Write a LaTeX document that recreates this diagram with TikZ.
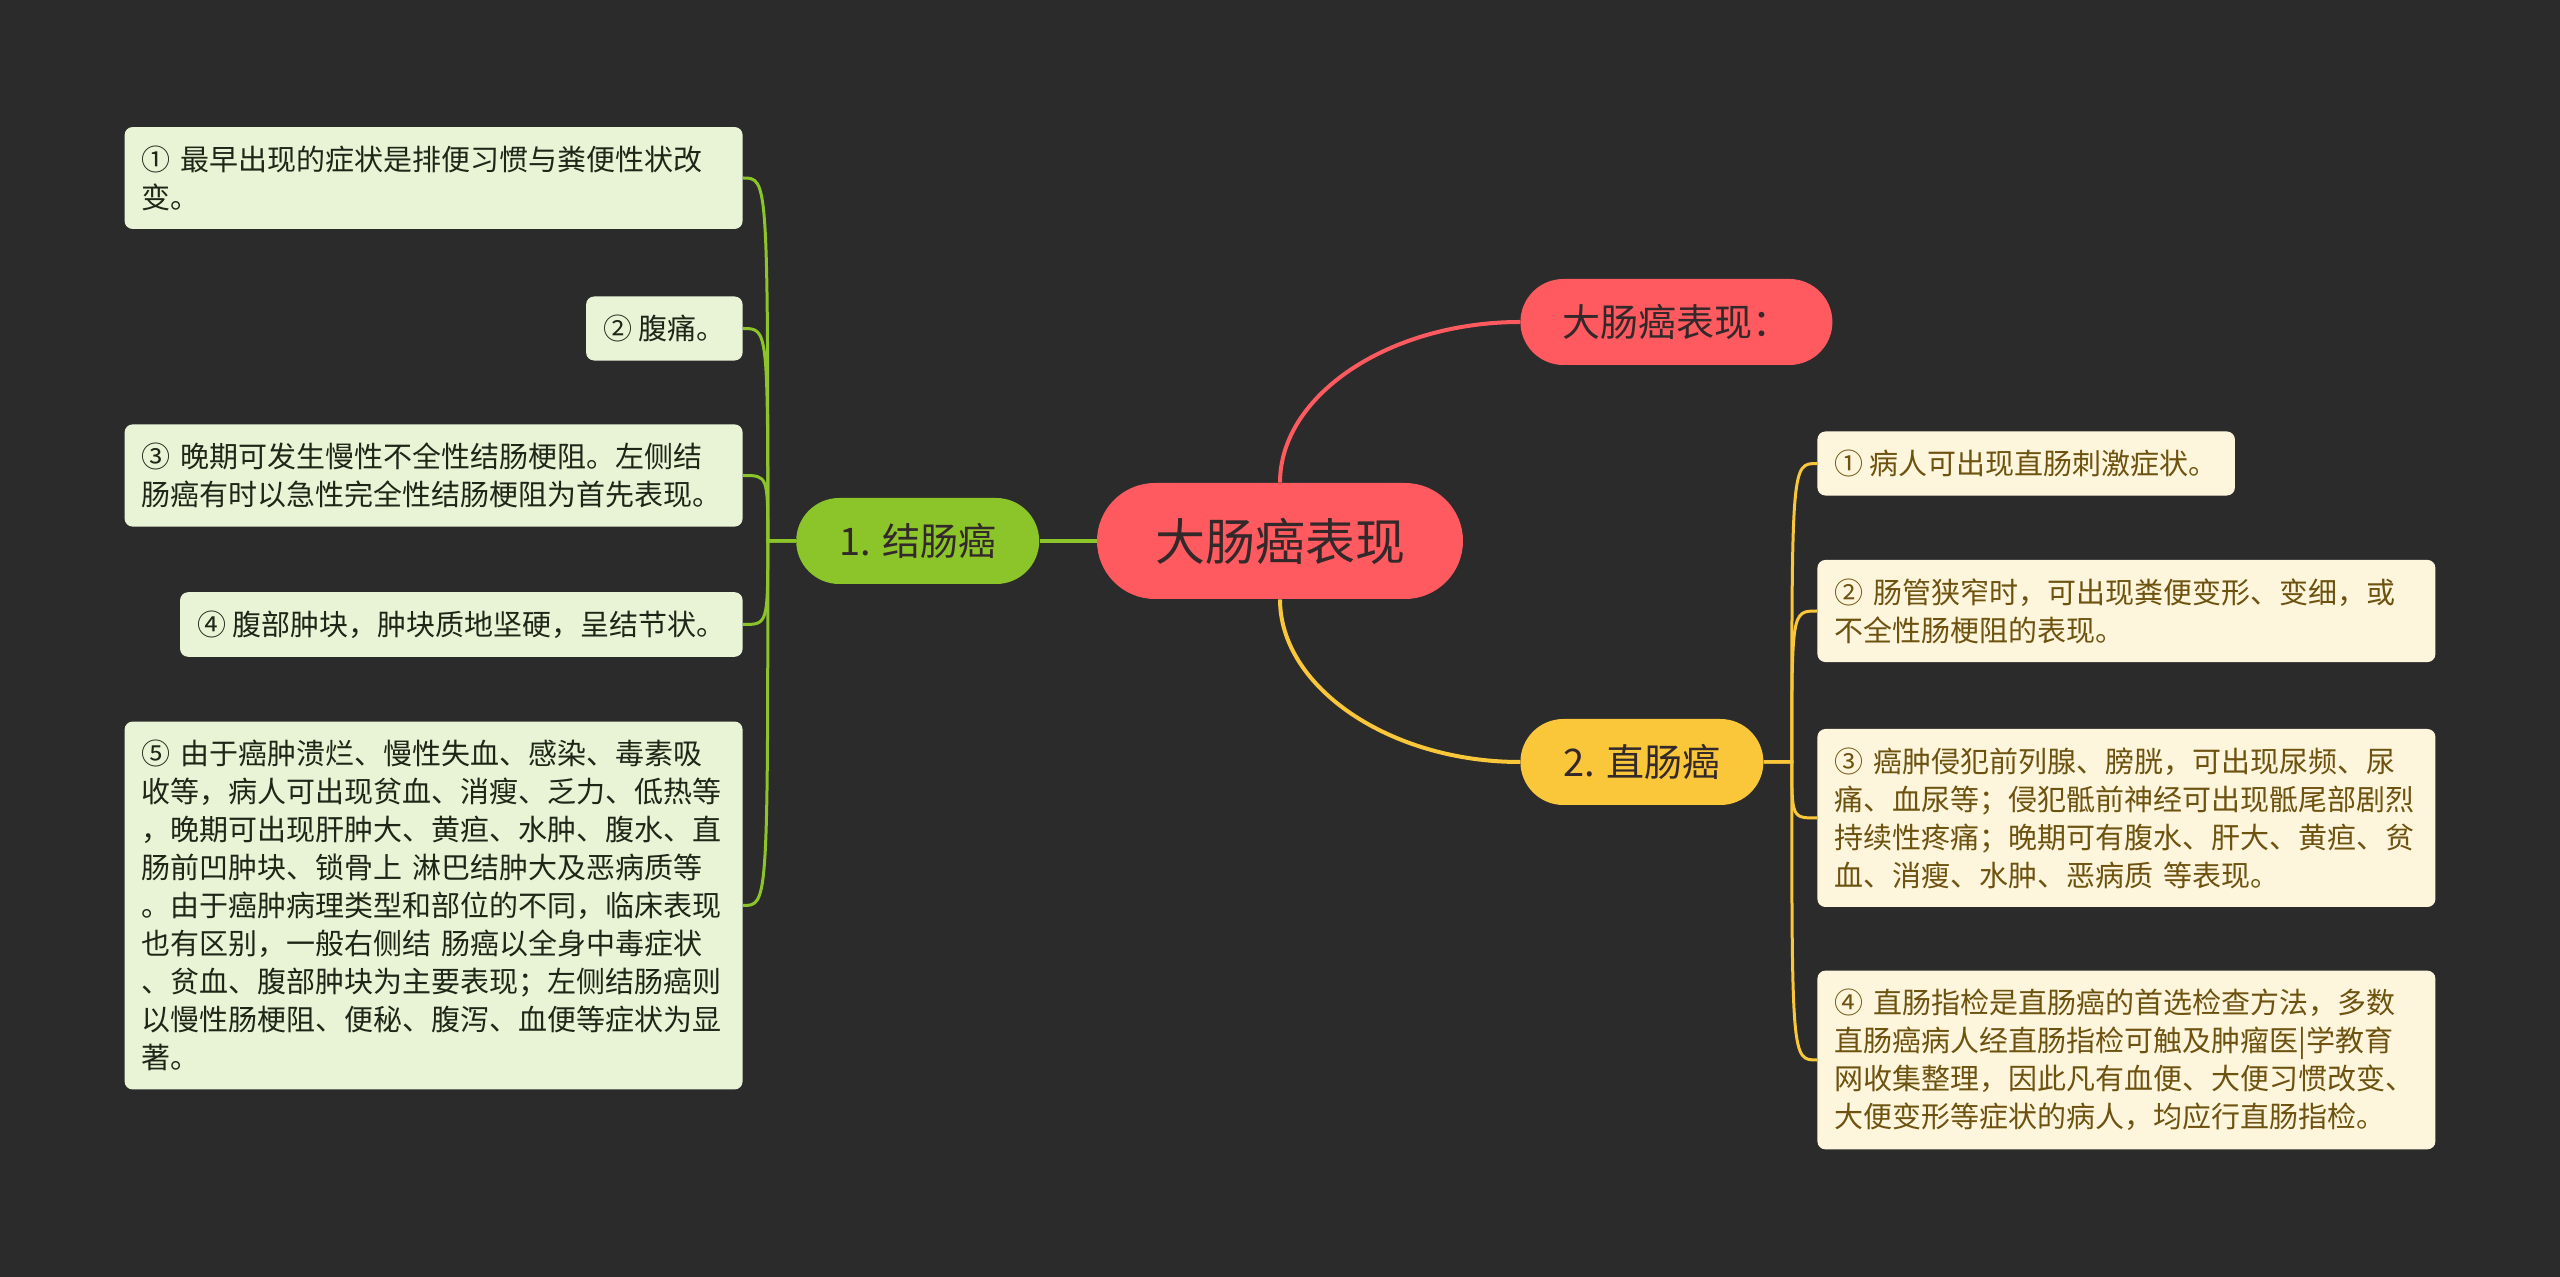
\documentclass[tikz,border=0pt]{standalone}
\usepackage{fontspec}
\setmainfont{Noto Sans CJK SC}
\usetikzlibrary{positioning,calc,backgrounds}
\definecolor{bgc}{HTML}{2B2B2B}
\definecolor{rootred}{HTML}{FF5A5F}
\definecolor{lvgrn}{HTML}{8BC52A}
\definecolor{lvylw}{HTML}{FAC63A}
\definecolor{lfgrn}{HTML}{E9F4D6}
\definecolor{lfylw}{HTML}{FEF6DC}
\definecolor{txtdk}{HTML}{33282A}
\definecolor{txtgr}{HTML}{1F2618}
\definecolor{txtbr}{HTML}{6E5210}
\tikzset{
  pill/.style={rectangle,rounded corners=21.5pt,minimum height=43pt,minimum width=121.5pt,inner xsep=10pt,font=\fontsize{19pt}{23pt}\selectfont,text=txtdk},
  rootblk/.style={pill,fill=rootred,rounded corners=29pt,minimum height=58pt,minimum width=183pt,font=\fontsize{25pt}{30pt}\selectfont},
  redblk/.style={pill,fill=rootred,minimum width=156pt},
  grnblk/.style={pill,fill=lvgrn},
  ylwblk/.style={pill,fill=lvylw},
  leaf/.style={rectangle,rounded corners=4pt,inner xsep=8.5pt,inner ysep=9.25pt,align=left,font=\fontsize{14.5pt}{19pt}\selectfont},
  gleaf/.style={leaf,fill=lfgrn,text=txtgr},
  yleaf/.style={leaf,fill=lfylw,text=txtbr},
  wide/.style={text width=292pt},
  mlink/.style={line width=2pt},
  glink/.style={draw=lvgrn,line width=1.5pt},
  ylink/.style={draw=lvylw,line width=1.5pt}
}
\begin{document}
\begin{tikzpicture}[node distance=28.5pt]
  \begin{scope}[on background layer]
    \fill[bgc] (0,0) rectangle (1280pt,-638.5pt);
  \end{scope}

  \node[rootblk] (root) at (640pt,-270.5pt) {大肠癌表现};
  \node[grnblk, left=of root] (colon) {1. 结肠癌};
  \node[redblk, anchor=west] (summary) at (760pt,-161pt) {大肠癌表现：};
  \node[ylwblk, anchor=west] (rectum) at (760pt,-381pt) {2. 直肠癌};

  \node[gleaf, wide, anchor=east] (c1) at (371.5pt,-89pt) {① 最早出现的症状是排便习惯与粪便性状改\\变。};
  \node[gleaf, anchor=east] (c2) at (371.5pt,-164.25pt) {② 腹痛。};
  \node[gleaf, wide, anchor=east] (c3) at (371.5pt,-237.75pt) {③ 晚期可发生慢性不全性结肠梗阻。左侧结\\肠癌有时以急性完全性结肠梗阻为首先表现。};
  \node[gleaf, anchor=east] (c4) at (371.5pt,-312.25pt) {④ 腹部肿块，肿块质地坚硬，呈结节状。};
  \node[gleaf, wide, anchor=east] (c5) at (371.5pt,-452.75pt) {⑤ 由于癌肿溃烂、慢性失血、感染、毒素吸\\收等，病人可出现贫血、消瘦、乏力、低热等\\，晚期可出现肝肿大、黄疸、水肿、腹水、直\\肠前凹肿块、锁骨上 淋巴结肿大及恶病质等\\。由于癌肿病理类型和部位的不同，临床表现\\也有区别，一般右侧结 肠癌以全身中毒症状\\、贫血、腹部肿块为主要表现；左侧结肠癌则\\以慢性肠梗阻、便秘、腹泻、血便等症状为显\\著。};

  \node[yleaf, anchor=west] (r1) at (908.5pt,-231.75pt) {① 病人可出现直肠刺激症状。};
  \node[yleaf, wide, anchor=west] (r2) at (908.5pt,-305.5pt) {② 肠管狭窄时，可出现粪便变形、变细，或\\不全性肠梗阻的表现。};
  \node[yleaf, wide, anchor=west] (r3) at (908.5pt,-409pt) {③ 癌肿侵犯前列腺、膀胱，可出现尿频、尿\\痛、血尿等；侵犯骶前神经可出现骶尾部剧烈\\持续性疼痛；晚期可有腹水、肝大、黄疸、贫\\血、消瘦、水肿、恶病质 等表现。};
  \node[yleaf, wide, anchor=west] (r4) at (908.5pt,-530pt) {④ 直肠指检是直肠癌的首选检查方法，多数\\直肠癌病人经直肠指检可触及肿瘤医|学教育\\网收集整理，因此凡有血便、大便习惯改变、\\大便变形等症状的病人，均应行直肠指检。};

  \coordinate[left=14pt of colon] (cj);
  \coordinate[right=14pt of rectum] (rj);

  \begin{scope}[on background layer]
    \draw[mlink, draw=lvgrn] (root.west) -- (colon.east);
    \draw[mlink, draw=rootred] (root.north) .. controls +(0,44pt) and +(-65pt,0) .. (summary.west);
    \draw[mlink, draw=lvylw] (root.south) .. controls +(0,-44pt) and +(-65pt,0) .. (rectum.west);

    \draw[glink] (colon.west) -- (cj) .. controls (cj |- c1.east) .. (c1.east);
    \draw[glink] (colon.west) -- (cj) .. controls (cj |- c2.east) .. (c2.east);
    \draw[glink] (colon.west) -- (cj) .. controls (cj |- c3.east) .. (c3.east);
    \draw[glink] (colon.west) -- (cj) .. controls (cj |- c4.east) .. (c4.east);
    \draw[glink] (colon.west) -- (cj) .. controls (cj |- c5.east) .. (c5.east);

    \draw[ylink] (rectum.east) -- (rj) .. controls (rj |- r1.west) .. (r1.west);
    \draw[ylink] (rectum.east) -- (rj) .. controls (rj |- r2.west) .. (r2.west);
    \draw[ylink] (rectum.east) -- (rj) .. controls (rj |- r3.west) .. (r3.west);
    \draw[ylink] (rectum.east) -- (rj) .. controls (rj |- r4.west) .. (r4.west);
  \end{scope}
\end{tikzpicture}
\end{document}
